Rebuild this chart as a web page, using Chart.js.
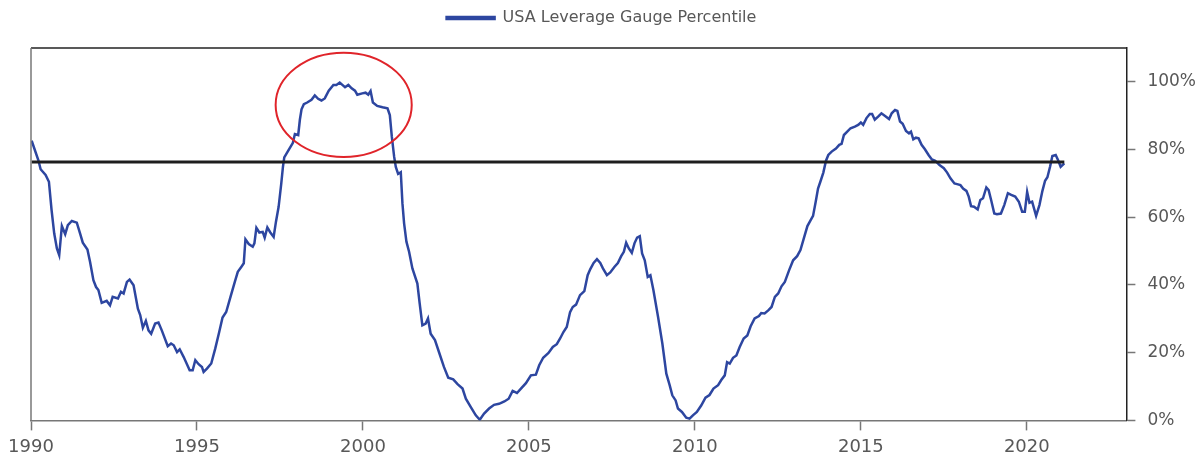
<!DOCTYPE html>
<html lang="en">
<head>
    <meta charset="UTF-8">
    <title>USA Leverage Gauge Percentile</title>
    <style>
        html, body { margin: 0; padding: 0; background: #fff; }
        #wrap { width: 1200px; height: 459px; }
    </style>
</head>
<body>

<div id="wrap"><canvas id="chart"></canvas></div>

<script src="https://cdn.jsdelivr.net/npm/chart.js@4.4.0/dist/chart.umd.min.js"></script>
<script>
    // data (year, percentile)
    const years = [
        1990.02, 1990.22, 1990.29, 1990.44, 1990.54, 1990.62, 1990.70, 1990.78, 1990.85, 1990.93,
        1991.03, 1991.11, 1991.23, 1991.38, 1991.48, 1991.56, 1991.70, 1991.78, 1991.88, 1991.96,
        1992.03, 1992.13, 1992.28, 1992.38, 1992.46, 1992.62, 1992.71, 1992.79, 1992.89, 1992.97,
        1993.09, 1993.22, 1993.29, 1993.37, 1993.46, 1993.54, 1993.62, 1993.74, 1993.84, 1993.94,
        1994.12, 1994.22, 1994.30, 1994.40, 1994.48, 1994.60, 1994.78, 1994.87, 1994.95, 1995.05,
        1995.15, 1995.20, 1995.30, 1995.43, 1995.55, 1995.67, 1995.77, 1995.88, 1996.01, 1996.14,
        1996.23, 1996.34, 1996.41, 1996.46, 1996.56, 1996.68, 1996.73, 1996.79, 1996.88, 1996.98,
        1997.04, 1997.12, 1997.21, 1997.31, 1997.38, 1997.46, 1997.54, 1997.59, 1997.63, 1997.75,
        1997.89, 1997.95, 1998.05, 1998.10, 1998.15, 1998.22, 1998.32, 1998.45, 1998.55, 1998.65,
        1998.75, 1998.85, 1998.97, 1999.11, 1999.20, 1999.30, 1999.38, 1999.46, 1999.56, 1999.66,
        1999.76, 1999.83, 1999.98, 2000.08, 2000.16, 2000.23, 2000.30, 2000.43, 2000.59, 2000.74,
        2000.81, 2000.87, 2000.94, 2000.99, 2001.06, 2001.14, 2001.19, 2001.24, 2001.31, 2001.39,
        2001.49, 2001.64, 2001.71, 2001.79, 2001.89, 2001.96, 2002.04, 2002.17, 2002.29, 2002.44,
        2002.57, 2002.72, 2002.85, 2003.00, 2003.10, 2003.25, 2003.40, 2003.52, 2003.65, 2003.80,
        2003.95, 2004.10, 2004.26, 2004.39, 2004.51, 2004.64, 2004.76, 2004.91, 2005.06, 2005.21,
        2005.31, 2005.43, 2005.59, 2005.72, 2005.84, 2005.94, 2006.04, 2006.14, 2006.24, 2006.32,
        2006.42, 2006.54, 2006.67, 2006.77, 2006.85, 2006.95, 2007.05, 2007.15, 2007.23, 2007.35,
        2007.45, 2007.58, 2007.68, 2007.78, 2007.86, 2007.93, 2008.01, 2008.10, 2008.18, 2008.26,
        2008.34, 2008.41, 2008.49, 2008.58, 2008.66, 2008.75, 2008.89, 2009.02, 2009.14, 2009.24,
        2009.32, 2009.42, 2009.49, 2009.61, 2009.74, 2009.84, 2009.94, 2010.06, 2010.19, 2010.32,
        2010.44, 2010.56, 2010.70, 2010.80, 2010.90, 2010.97, 2011.05, 2011.15, 2011.25, 2011.35,
        2011.47, 2011.58, 2011.68, 2011.80, 2011.93, 2012.00, 2012.10, 2012.21, 2012.31, 2012.41,
        2012.51, 2012.61, 2012.71, 2012.84, 2012.96, 2013.08, 2013.18, 2013.28, 2013.39, 2013.48,
        2013.56, 2013.64, 2013.71, 2013.78, 2013.87, 2013.95, 2014.02, 2014.12, 2014.25, 2014.35,
        2014.42, 2014.49, 2014.59, 2014.69, 2014.82, 2014.92, 2015.00, 2015.07, 2015.17, 2015.27,
        2015.34, 2015.42, 2015.52, 2015.62, 2015.73, 2015.85, 2015.93, 2016.03, 2016.10, 2016.18,
        2016.26, 2016.36, 2016.45, 2016.51, 2016.58, 2016.66, 2016.74, 2016.83, 2016.93, 2017.04,
        2017.14, 2017.24, 2017.37, 2017.50, 2017.60, 2017.70, 2017.82, 2017.90, 2018.00, 2018.08,
        2018.18, 2018.25, 2018.32, 2018.41, 2018.52, 2018.60, 2018.68, 2018.78, 2018.85, 2018.93,
        2019.02, 2019.10, 2019.22, 2019.32, 2019.43, 2019.53, 2019.65, 2019.76, 2019.86, 2019.94,
        2020.01, 2020.08, 2020.16, 2020.28, 2020.38, 2020.47, 2020.55, 2020.62, 2020.70, 2020.77,
        2020.87, 2020.94, 2021.02, 2021.13
    ];
    const values = [
        82.6, 76.9, 74.2, 72.5, 70.5, 62.1, 55.2, 50.8, 48.8, 57.4,
        55.0, 57.7, 58.9, 58.4, 55.2, 52.5, 50.5, 46.8, 41.4, 39.4,
        38.5, 34.7, 35.3, 34.0, 36.5, 36.0, 38.0, 37.5, 40.9, 41.6,
        39.9, 33.0, 31.1, 27.4, 29.4, 26.6, 25.6, 28.6, 28.9, 26.6,
        21.9, 22.7, 22.2, 20.2, 21.0, 18.7, 14.8, 14.8, 17.8, 16.6,
        15.8, 14.3, 15.3, 16.8, 21.2, 26.1, 30.4, 32.0, 36.5, 40.9,
        43.9, 45.4, 46.4, 53.5, 52.1, 51.3, 52.3, 56.9, 55.5, 55.7,
        54.0, 57.0, 55.5, 54.2, 58.7, 63.1, 70.0, 74.9, 77.7, 79.7,
        82.0, 84.6, 84.3, 88.8, 91.9, 93.4, 93.9, 94.7, 96.0, 95.0,
        94.5, 95.1, 97.4, 99.1, 99.1, 99.8, 99.1, 98.4, 99.1, 98.1,
        97.4, 96.2, 96.6, 96.8, 96.2, 97.3, 93.9, 92.9, 92.5, 92.2,
        90.2, 83.8, 77.9, 74.9, 72.8, 73.3, 64.1, 58.2, 52.8, 49.8,
        44.9, 40.4, 34.5, 28.1, 28.6, 30.1, 25.6, 23.7, 20.2, 15.8,
        12.6, 12.1, 10.7, 9.4, 6.4, 3.9, 1.5, 0.2, 2.0, 3.5,
        4.6, 4.9, 5.6, 6.4, 8.7, 8.1, 9.4, 11.0, 13.3, 13.5,
        16.3, 18.5, 19.9, 21.7, 22.5, 24.2, 26.1, 27.6, 32.0, 33.5,
        34.2, 37.0, 38.2, 42.9, 44.7, 46.5, 47.6, 46.5, 44.9, 42.9,
        43.7, 45.4, 46.5, 48.5, 49.8, 52.5, 50.8, 49.5, 52.3, 54.0,
        54.4, 49.3, 47.3, 42.4, 42.9, 38.5, 30.6, 22.7, 13.8, 10.4,
        7.4, 5.9, 3.5, 2.5, 0.8, 0.5, 1.5, 2.5, 4.4, 6.7,
        7.5, 9.4, 10.4, 12.0, 13.3, 17.2, 16.8, 18.5, 19.2, 21.7,
        24.2, 25.1, 27.8, 30.1, 30.8, 31.7, 31.6, 32.5, 33.5, 36.5,
        37.5, 39.6, 40.9, 44.4, 47.3, 48.5, 50.3, 53.7, 57.4, 59.0,
        60.4, 64.6, 68.5, 70.5, 73.2, 76.7, 78.4, 79.4, 80.3, 81.4,
        81.7, 84.3, 85.3, 86.3, 86.8, 87.3, 88.0, 87.3, 89.3, 90.5,
        90.5, 88.8, 89.7, 90.7, 89.9, 89.0, 90.7, 91.7, 91.4, 88.3,
        87.6, 85.5, 84.8, 85.3, 83.0, 83.5, 83.3, 81.4, 80.1, 78.4,
        77.1, 76.7, 75.4, 74.5, 73.2, 71.5, 70.0, 69.8, 69.5, 68.5,
        67.8, 66.1, 63.3, 63.1, 62.3, 65.1, 65.6, 68.8, 68.0, 64.9,
        61.1, 60.9, 61.1, 63.6, 67.1, 66.6, 66.1, 64.6, 61.6, 61.6,
        67.5, 64.3, 64.6, 60.4, 63.6, 67.8, 70.8, 71.8, 74.9, 78.1,
        78.4, 76.9, 74.9, 75.9
    ];
    const seriesLabel = 'USA Leverage Gauge Percentile';
    const thresholdLevel = 76.3;          // black horizontal line
    const xTickYears = [1990, 1995, 2000, 2005, 2010, 2015, 2020];
    const yTickValues = [0, 20, 40, 60, 80, 100];
    // red ring round the 1999 peak, in data units (centre year, centre %, half-width years, half-height %)
    const highlight = { x: 1999.42, y: 93.2, rx: 2.05, ry: 15.4 };

    const textColor = '#585858';
    const lineBlue = '#2d46a0';

    // extra room under the legend, and nudge it to the left
    const legendGap = {
        id: 'legendGap',
        beforeInit(chart) {
            const legend = chart.legend;
            const origFit = legend.fit;
            legend.fit = function () {
                origFit.bind(legend)();
                this.height += 12;
            };
            const origDraw = legend.draw;
            legend.draw = function () {
                const ctx = chart.ctx;
                ctx.save();
                ctx.translate(-18, 0);
                origDraw.bind(legend)();
                ctx.restore();
            };
        }
    };

    const frame = {
        id: 'frame',
        afterDraw(chart) {
            const { ctx, chartArea: a } = chart;
            ctx.save();
            ctx.lineWidth = 1.5;
            ctx.strokeStyle = '#222';
            ctx.beginPath();
            ctx.moveTo(a.left, a.top);
            ctx.lineTo(a.right, a.top);
            ctx.stroke();
            ctx.strokeStyle = '#777';
            ctx.beginPath();
            ctx.moveTo(a.left, a.top);
            ctx.lineTo(a.left, a.bottom);
            ctx.stroke();
            ctx.restore();
        }
    };

    const ring = {
        id: 'ring',
        afterDatasetsDraw(chart) {
            const { ctx, scales: { x, y } } = chart;
            const cx = x.getPixelForValue(highlight.x);
            const cy = y.getPixelForValue(highlight.y);
            const rx = x.getPixelForValue(highlight.x + highlight.rx) - cx;
            const ry = cy - y.getPixelForValue(highlight.y + highlight.ry);
            ctx.save();
            ctx.strokeStyle = '#e0242a';
            ctx.lineWidth = 2;
            ctx.beginPath();
            ctx.ellipse(cx, cy, rx, ry, 0, 0, Math.PI * 2);
            ctx.stroke();
            ctx.restore();
        }
    };

    Chart.defaults.font.family = '"DejaVu Sans", sans-serif';
    Chart.defaults.color = textColor;

    new Chart(document.getElementById('chart'), {
        type: 'line',
        data: {
            datasets: [
                {
                    label: 'threshold',
                    data: [
                        { x: years[0], y: thresholdLevel },
                        { x: years[years.length - 1], y: thresholdLevel }
                    ],
                    borderColor: '#1e1e1e',
                    borderWidth: 3,
                    pointRadius: 0,
                    order: 0
                },
                {
                    label: seriesLabel,
                    data: years.map((yr, i) => ({ x: yr, y: values[i] })),
                    borderColor: lineBlue,
                    backgroundColor: lineBlue,
                    borderWidth: 2.5,
                    pointRadius: 0,
                    tension: 0,
                    order: 1
                }
            ]
        },
        options: {
            responsive: true,
            maintainAspectRatio: false,
            animation: false,
            layout: { padding: { top: 3, right: -8, bottom: -5, left: 31 } },
            plugins: {
                legend: {
                    position: 'top',
                    labels: {
                        boxWidth: 48,
                        boxHeight: 2,
                        padding: 7,
                        font: { size: 16 },
                        color: textColor,
                        filter: item => item.text === seriesLabel
                    }
                },
                tooltip: { enabled: false }
            },
            scales: {
                x: {
                    type: 'linear',
                    min: 1990,
                    max: 2023,
                    afterBuildTicks: axis => { axis.ticks = xTickYears.map(v => ({ value: v })); },
                    ticks: {
                        font: { size: 18 },
                        color: textColor,
                        padding: 6,
                        maxRotation: 0,
                        callback: v => String(v)
                    },
                    grid: { drawOnChartArea: false, tickLength: 10, tickColor: '#777', tickWidth: 1.5 },
                    border: { color: '#777', width: 1.5 }
                },
                y: {
                    position: 'right',
                    min: 0,
                    max: 110,
                    afterBuildTicks: axis => { axis.ticks = yTickValues.map(v => ({ value: v })); },
                    ticks: {
                        font: { size: 17 },
                        color: textColor,
                        padding: 12,
                        callback: v => v + '%'
                    },
                    grid: { drawOnChartArea: false, tickLength: 9, tickColor: '#777', tickWidth: 1.5 },
                    border: { color: '#222', width: 1.5 }
                }
            }
        },
        plugins: [legendGap, frame, ring]
    });
</script>

</body>
</html>
